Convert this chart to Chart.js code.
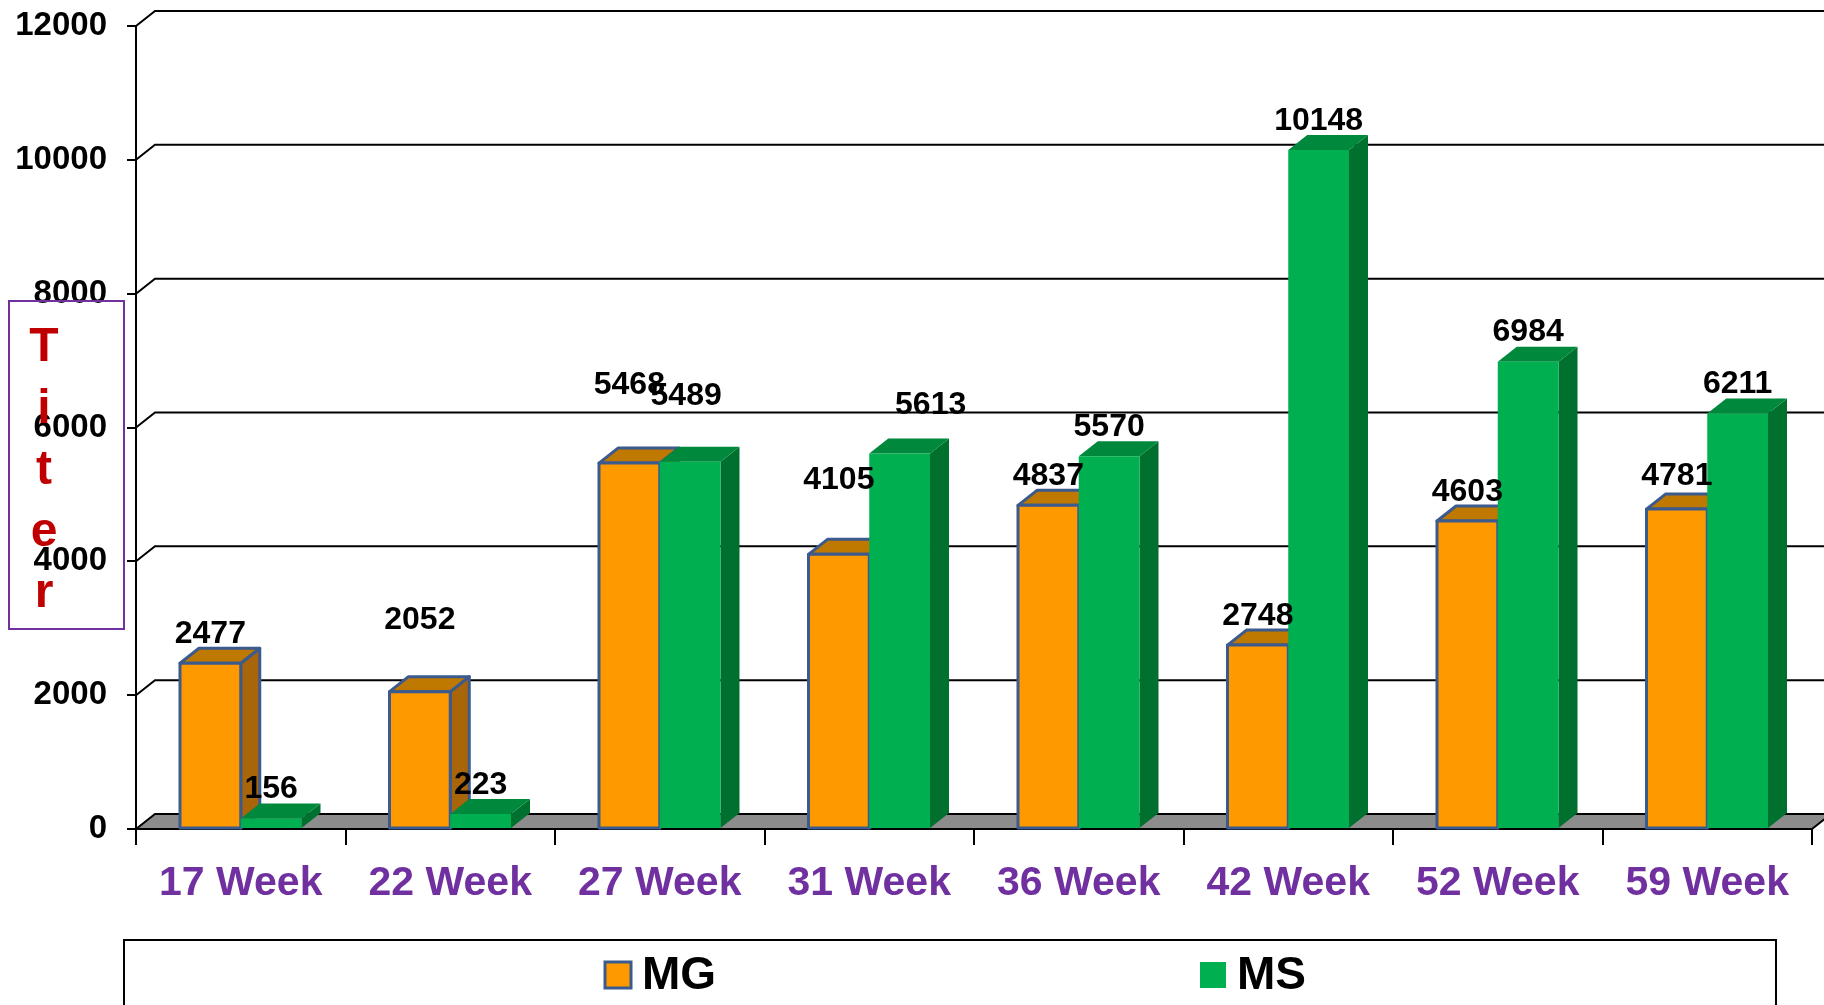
<!DOCTYPE html>
<html>
<head>
<meta charset="utf-8">
<title>Titer by week</title>
<script src="https://cdn.jsdelivr.net/npm/chart.js@4.4.1/dist/chart.umd.min.js"></script>
<style>
  html, body { margin: 0; padding: 0; background: #fff; }
  canvas { display: block; }
</style>
</head>
<body>
<canvas id="titerChart" width="1824" height="1005"></canvas>
<script>
// Titer values per sampling week
const weeks = ['17 Week', '22 Week', '27 Week', '31 Week', '36 Week', '42 Week', '52 Week', '59 Week'];
const mgTiter = [2477, 2052, 5468, 4105, 4837, 2748, 4603, 4781];
const msTiter = [156, 223, 5489, 5613, 5570, 10148, 6984, 6211];
const yAxisMax = 12000;
const yAxisStep = 2000;
const axisTitle = 'Titer';

const FONT = 'Arial, "Liberation Sans", sans-serif';
const DEPTH_X = 19;   // fake 3D depth of bars / back wall
const DEPTH_Y = -15;

function poly(ctx, pts, fill, stroke, lw) {
  ctx.beginPath();
  ctx.moveTo(pts[0][0], pts[0][1]);
  for (let i = 1; i < pts.length; i++) ctx.lineTo(pts[i][0], pts[i][1]);
  ctx.closePath();
  if (fill) { ctx.fillStyle = fill; ctx.fill(); }
  if (stroke && lw) { ctx.strokeStyle = stroke; ctx.lineWidth = lw; ctx.lineJoin = 'round'; ctx.stroke(); }
}

// Draw one bar as a box: side, top, then front face
function drawBox(ctx, el, ds) {
  const half = el.width / 2;
  const x0 = el.x - half, x1 = el.x + half;
  const top = el.y, base = el.base;
  const dx = DEPTH_X, dy = DEPTH_Y;
  const lw = ds.borderWidth || 0;
  const sc = ds.borderColor;
  poly(ctx, [[x1, top], [x1 + dx, top + dy], [x1 + dx, base + dy], [x1, base]], ds.sideColor, sc, lw);
  poly(ctx, [[x0, top], [x0 + dx, top + dy], [x1 + dx, top + dy], [x1, top]], ds.topColor, sc, lw);
  poly(ctx, [[x0, top], [x1, top], [x1, base], [x0, base]], ds.backgroundColor, sc, lw);
}

const box3d = {
  id: 'box3d',
  // floor and back-wall gridlines go under everything
  beforeDraw(chart) {
    const { ctx, chartArea: a, scales: { y } } = chart;
    const dx = DEPTH_X, dy = DEPTH_Y;
    ctx.save();
    poly(ctx, [[a.left, a.bottom], [a.right, a.bottom], [a.right + dx, a.bottom + dy], [a.left + dx, a.bottom + dy]], '#8c8c8c');
    ctx.strokeStyle = '#000';
    ctx.lineWidth = 2;
    ctx.beginPath();
    ctx.moveTo(a.right, a.bottom);
    ctx.lineTo(a.right + dx, a.bottom + dy);
    ctx.stroke();
    y.ticks.forEach(t => {
      const py = y.getPixelForValue(t.value);
      ctx.beginPath();
      ctx.moveTo(a.left, py);
      ctx.lineTo(a.left + dx, py + dy);
      ctx.lineTo(chart.width + 10, py + dy);
      ctx.stroke();
    });
    ctx.restore();
  },
  beforeDatasetsDraw(chart) {
    const ctx = chart.ctx;
    const metas = chart.data.datasets.map((d, i) => chart.getDatasetMeta(i));
    ctx.save();
    for (let i = 0; i < chart.data.labels.length; i++) {
      metas.forEach((m, d) => drawBox(ctx, m.data[i], chart.data.datasets[d]));
    }
    ctx.restore();
    return false;
  },
  afterDraw(chart, args, opts) {
    const ctx = chart.ctx;
    ctx.save();

    // value labels above each bar
    ctx.font = 'bold 32px ' + FONT;
    ctx.fillStyle = '#000';
    ctx.textAlign = 'center';
    ctx.textBaseline = 'middle';
    chart.data.datasets.forEach((ds, d) => {
      const nudge = opts.nudge[ds.label] || [];
      chart.getDatasetMeta(d).data.forEach((el, i) => {
        const n = nudge[i] || [0, 0];
        ctx.fillText(String(ds.data[i]), el.x + n[0], el.y - 29 + n[1]);
      });
    });

    // vertical axis title in a purple frame
    ctx.strokeStyle = '#7030A0';
    ctx.lineWidth = 2;
    ctx.strokeRect(9, 301, 115, 328);
    ctx.fillStyle = '#C00000';
    ctx.font = 'bold 48px ' + FONT;
    ctx.textBaseline = 'alphabetic';
    axisTitle.split('').forEach((ch, k) => ctx.fillText(ch, 44, 361 + k * 61.5));

    // legend
    ctx.strokeStyle = '#000';
    ctx.lineWidth = 2;
    ctx.strokeRect(124, 940, 1652, 100);
    const items = [{ x: 605 }, { x: 1200 }];
    ctx.font = 'bold 46px ' + FONT;
    ctx.textAlign = 'left';
    ctx.textBaseline = 'middle';
    chart.data.datasets.forEach((ds, d) => {
      const x = items[d].x;
      ctx.fillStyle = ds.backgroundColor;
      ctx.fillRect(x, 962, 26, 26);
      if (ds.borderWidth) {
        ctx.strokeStyle = ds.borderColor;
        ctx.lineWidth = 3;
        ctx.strokeRect(x, 962, 26, 26);
      }
      ctx.fillStyle = '#000';
      ctx.fillText(ds.label, x + 37, 976);
    });
    ctx.restore();
  }
};

const ctx = document.getElementById('titerChart').getContext('2d');
const titerChart = new Chart(ctx, {
  type: 'bar',
  data: {
    labels: weeks,
    datasets: [{
      label: 'MG',
      data: mgTiter,
      backgroundColor: '#FF9900',
      sideColor: '#A9650A',
      topColor: '#BF7800',
      borderColor: '#3B5A8E',
      borderWidth: 3
    }, {
      label: 'MS',
      data: msTiter,
      backgroundColor: '#00B050',
      sideColor: '#00702F',
      topColor: '#00883C',
      borderWidth: 0
    }]
  },
  options: {
    responsive: false,
    animation: false,
    categoryPercentage: 0.58,
    barPercentage: 1,
    layout: { padding: { top: 26, right: 12, left: 0, bottom: 0 } },
    plugins: {
      legend: { display: false },
      tooltip: { enabled: false },
      box3d: {
        // hand-placed label offsets [dx, dy]
        nudge: {
          MG: [[0, 0], [0, -43], [0, -49], [0, -45], [0, 0], [0, 0], [0, 0], [0, -4]],
          MS: [[0, 0], [0, 0], [-4, -37], [31, -19], [0, 0], [0, 0], [0, 0], [0, 0]]
        }
      }
    },
    scales: {
      x: {
        grid: { drawOnChartArea: false, color: '#000', lineWidth: 2, tickLength: 16, offset: true },
        border: { color: '#000', width: 2 },
        ticks: { color: '#7030A0', font: { family: FONT, size: 41, weight: 'bold' }, padding: 14, maxRotation: 0 },
        afterFit(s) { s.height = 176; }
      },
      y: {
        min: 0,
        max: yAxisMax,
        grid: { drawOnChartArea: false, color: '#000', lineWidth: 2, tickLength: 9 },
        border: { color: '#000', width: 2 },
        ticks: {
          stepSize: yAxisStep,
          color: '#000',
          padding: 20,
          font: { family: FONT, size: 33, weight: 'bold' },
          callback: v => String(v)
        },
        afterFit(s) {
          s.width = 136;
          s.paddingTop = 0;
          s.paddingBottom = 0;
        }
      }
    }
  },
  plugins: [box3d]
});
</script>
</body>
</html>
